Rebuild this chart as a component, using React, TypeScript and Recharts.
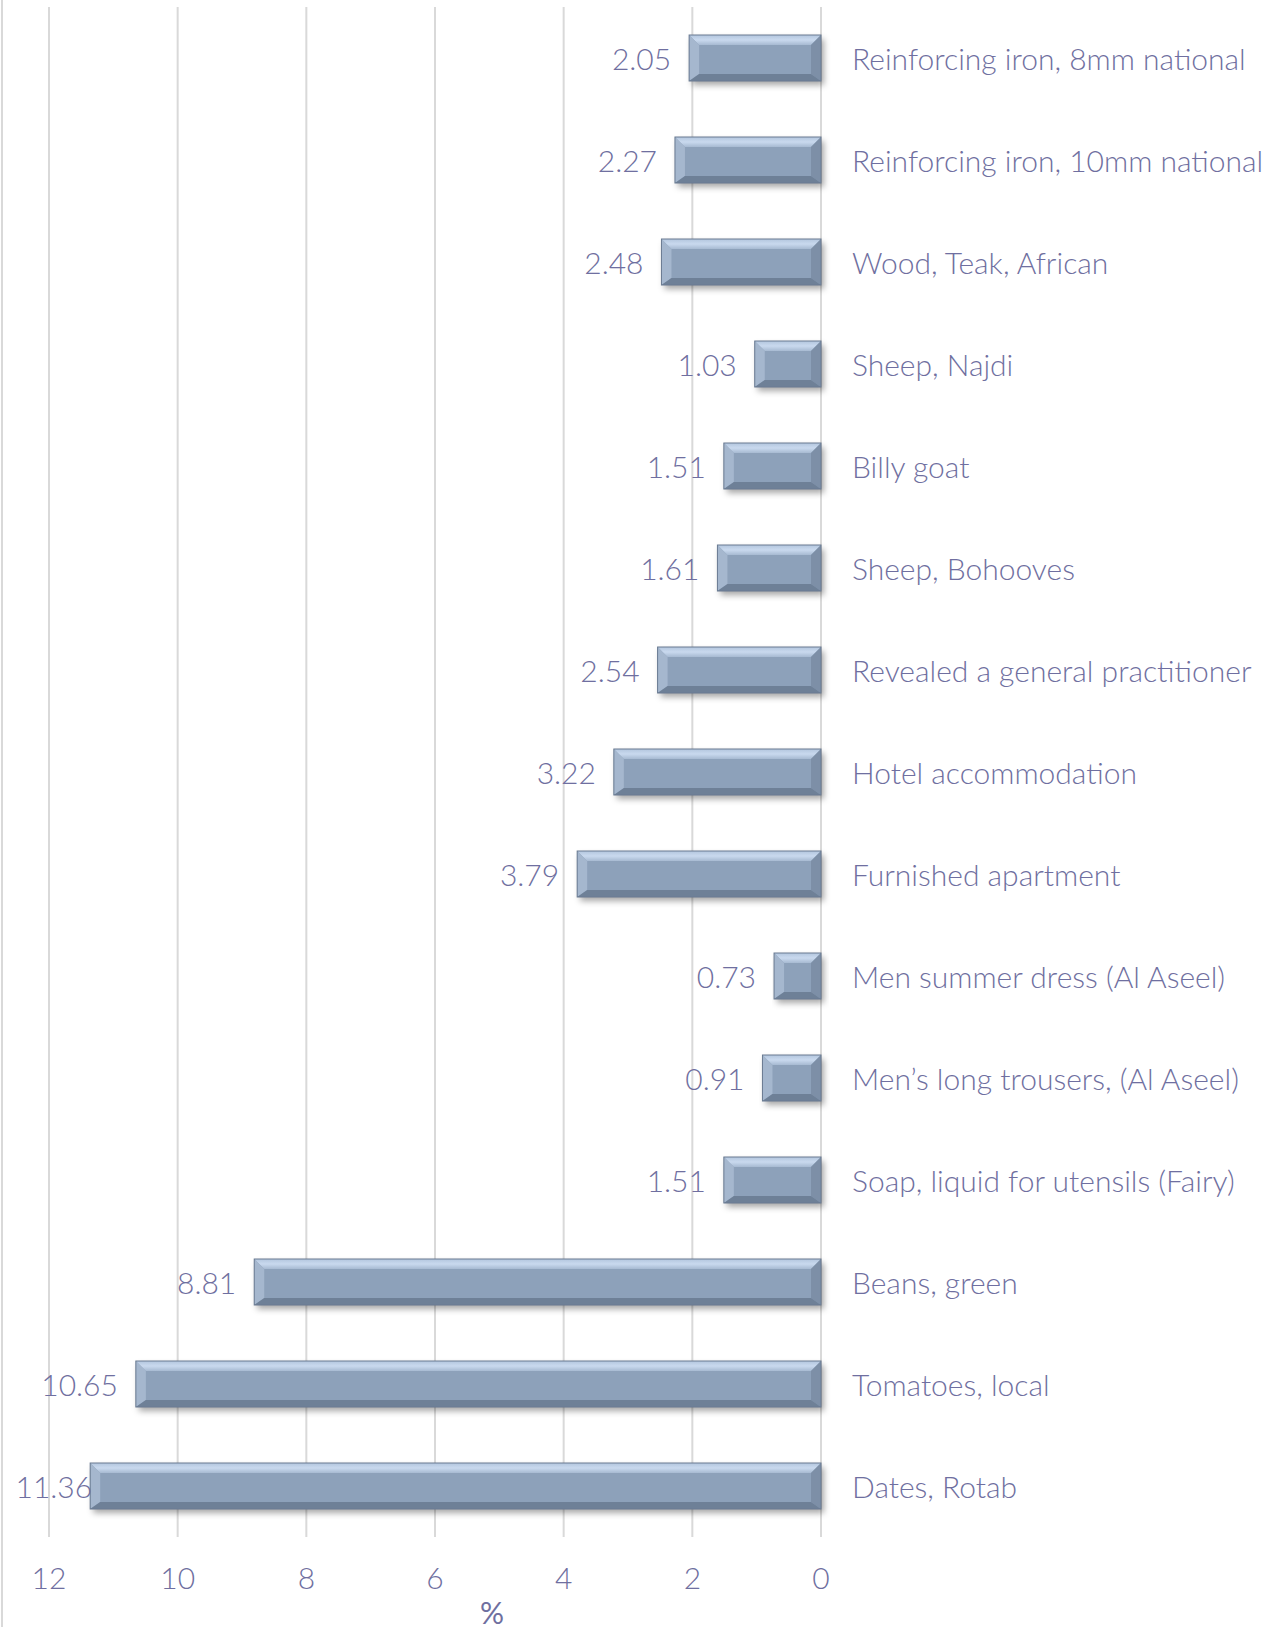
import React from 'react';
import { BarChart, Bar, XAxis, YAxis, CartesianGrid, LabelList, Label } from 'recharts';

const items = [
  'Reinforcing iron, 8mm national',
  'Reinforcing iron, 10mm national',
  'Wood, Teak, African',
  'Sheep, Najdi',
  'Billy goat',
  'Sheep, Bohooves',
  'Revealed a general practitioner',
  'Hotel accommodation',
  'Furnished apartment',
  'Men summer dress (Al Aseel)',
  'Men’s long trousers, (Al Aseel)',
  'Soap, liquid for utensils (Fairy)',
  'Beans, green',
  'Tomatoes, local',
  'Dates, Rotab',
];

const changes = [2.05, 2.27, 2.48, 1.03, 1.51, 1.61, 2.54, 3.22, 3.79, 0.73, 0.91, 1.51, 8.81, 10.65, 11.36];

const xTicks = [0, 2, 4, 6, 8, 10, 12];

const data = items.map((name, i) => ({ name, value: changes[i] }));

const TEXT = '#6F6FA0';
const FONT = 'Lato, "Noto Sans", sans-serif';

// bevelled bar, like the Excel "bevel" effect
const BevelBar = (props: any) => {
  const { x, y, width, height } = props;
  const x0 = Math.min(x, x + width);
  const w = Math.abs(width);
  const h = height;
  const b = Math.min(10, w / 2, h / 2);
  const bb = Math.min(7, h / 2);
  return (
    <g>
      <rect x={x0 + 3} y={y + 4} width={w} height={h} fill="rgba(0,0,0,0.35)" filter="url(#barShadow)" />
      <rect x={x0} y={y} width={w} height={h} fill="#8DA1BA" />
      <polygon points={`${x0},${y} ${x0 + w},${y} ${x0 + w - b},${y + b} ${x0 + b},${y + b}`} fill="url(#topBevel)" />
      <polygon points={`${x0},${y} ${x0 + b},${y + b} ${x0 + b},${y + h - bb} ${x0},${y + h}`} fill="#A5B7CE" />
      <polygon points={`${x0 + w},${y} ${x0 + w},${y + h} ${x0 + w - b},${y + h - bb} ${x0 + w - b},${y + b}`} fill="#7D8FA7" />
      <polygon points={`${x0},${y + h} ${x0 + b},${y + h - bb} ${x0 + w - b},${y + h - bb} ${x0 + w},${y + h}`} fill="#6E8097" />
      <rect x={x0} y={y} width={w} height={h} fill="none" stroke="#6A7B92" strokeWidth={1} />
    </g>
  );
};

const ValueLabel = (props: any) => {
  const { x, y, width, height, value } = props;
  const left = Math.min(x, x + width);
  const text = Number(value).toFixed(2);
  const approx = text.length * 15;
  let tx = left - 18;
  if (tx - approx < 8) tx = left + 2;
  return (
    <text x={tx} y={y + height / 2} textAnchor="end" dominantBaseline="central" fill={TEXT} fontSize={30} fontFamily={FONT} fontWeight={300}>
      {text}
    </text>
  );
};

const CategoryTick = (props: any) => {
  const { x, y, payload } = props;
  return (
    <text x={x + 23} y={y} textAnchor="start" dominantBaseline="central" fill={TEXT} fontSize={30} fontFamily={FONT} fontWeight={300}>
      {payload.value}
    </text>
  );
};

const ValueTick = (props: any) => {
  const { x, y, payload } = props;
  return (
    <text x={x} y={y + 32} textAnchor="middle" dominantBaseline="central" fill={TEXT} fontSize={30} fontFamily={FONT} fontWeight={300}>
      {payload.value}
    </text>
  );
};

export default function App() {
  return (
    <div style={{ position: 'absolute', left: 0, top: 0, width: 1282, height: 1627, background: '#fff' }}>
      <div style={{ position: 'absolute', left: 1, top: 0, width: 2, height: 1627, background: '#D9D9D9' }} />
      <BarChart
        width={1282}
        height={1627}
        layout="vertical"
        data={data}
        margin={{ top: 7, right: 0, bottom: 0, left: 49 }}
      >
        <defs>
          <linearGradient id="topBevel" x1="0" y1="0" x2="0" y2="1">
            <stop offset="0%" stopColor="#B3C6DE" />
            <stop offset="50%" stopColor="#C9D9EE" />
            <stop offset="100%" stopColor="#A7BAD2" />
          </linearGradient>
          <filter id="barShadow" x="-10%" y="-50%" width="120%" height="200%">
            <feGaussianBlur stdDeviation="3" />
          </filter>
        </defs>
        <CartesianGrid vertical horizontal={false} stroke="#D9D9D9" strokeWidth={2} verticalValues={xTicks} />
        <XAxis
          type="number"
          domain={[0, 12]}
          ticks={xTicks}
          reversed
          axisLine={false}
          tickLine={false}
          height={90}
          tick={<ValueTick />}
          interval={0}
        >
          <Label value="%" position="insideBottom" offset={3} dx={57} fill={TEXT} fontSize={30} fontFamily={FONT} />
        </XAxis>
        <YAxis
          type="category"
          dataKey="name"
          orientation="right"
          width={461}
          axisLine={false}
          tickLine={false}
          tick={<CategoryTick />}
          interval={0}
        />
        <Bar dataKey="value" barSize={46} shape={<BevelBar />} isAnimationActive={false}>
          <LabelList dataKey="value" content={<ValueLabel />} />
        </Bar>
      </BarChart>
    </div>
  );
}
